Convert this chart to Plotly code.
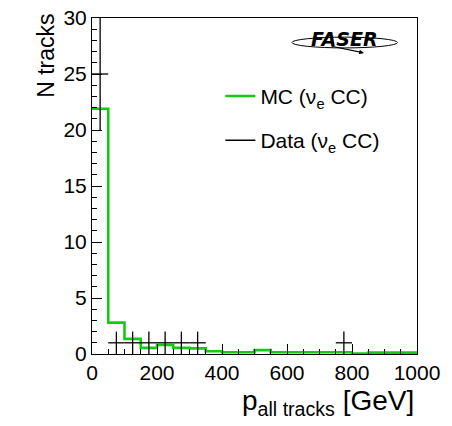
import numpy as np
import plotly.graph_objects as go

# ---- data ----
bin_width = 50
bin_edges = list(range(0, 1001, bin_width))
mc_values = [21.9, 2.8, 1.35, 0.55, 0.8, 0.55, 0.5, 0.25, 0.15, 0.15,
             0.35, 0.15, 0.15, 0.15, 0.15, 0.15, 0.03, 0.12, 0.12, 0.12]
data_centers = [25, 75, 125, 175, 225, 275, 325, 775]
data_counts = [25, 1, 1, 1, 1, 1, 1, 1]
x_ticks = [0, 200, 400, 600, 800, 1000]
y_ticks = [0, 5, 10, 15, 20, 25, 30]

GREEN = "#12cc12"
FONT = "Liberation Sans"

fig = go.Figure()

# MC histogram as step line
fig.add_trace(go.Scatter(
    x=bin_edges, y=mc_values + [mc_values[-1]],
    mode="lines", line=dict(color=GREEN, width=2.6, shape="hv"),
    showlegend=False, hoverinfo="skip"))

# Data points with error bars
fig.add_trace(go.Scatter(
    x=data_centers, y=data_counts, mode="markers",
    marker=dict(size=1, color="rgba(0,0,0,0)", line=dict(width=0)),
    error_y=dict(type="data", array=list(np.sqrt(data_counts)), color="black",
                 thickness=1.3, width=0),
    error_x=dict(type="data", array=[bin_width / 2] * len(data_centers), color="black",
                 thickness=1.3, width=0),
    showlegend=False))

# legend entries
fig.add_trace(go.Scatter(x=[None], y=[None], mode="lines",
                         line=dict(color=GREEN, width=2.6),
                         name="MC (ν<sub>e</sub> CC)", legendgroup="mc"))
fig.add_trace(go.Scatter(x=[None], y=[None], mode="lines",
                         line=dict(color="black", width=1.3),
                         name="Data (ν<sub>e</sub> CC)", legendgroup="data"))

axis_common = dict(showline=True, linecolor="black", linewidth=1, mirror=True,
                   ticks="inside", tickcolor="black", tickwidth=1,
                   showgrid=False, zeroline=False, automargin=False,
                   tickfont=dict(family=FONT, size=21, color="black"))

fig.update_xaxes(range=[0, 1000], tickvals=x_ticks, ticklen=10,
                 minor=dict(dtick=50, ticklen=5, ticks="inside", tickcolor="black"),
                 **axis_common)
fig.update_yaxes(range=[0, 30], tickvals=y_ticks, ticklen=10,
                 minor=dict(dtick=1, ticklen=5, ticks="inside", tickcolor="black"),
                 **axis_common)

fig.update_layout(
    width=452, height=426,
    margin=dict(l=92, r=35, t=18, b=72, autoexpand=False),
    plot_bgcolor="white", paper_bgcolor="white",
    font=dict(family=FONT, color="black"),
    legend=dict(x=0.395, y=0.828, xanchor="left", yanchor="top",
                font=dict(family=FONT, size=21, color="black"),
                bgcolor="rgba(0,0,0,0)", traceorder="grouped", tracegroupgap=14),
    annotations=[
        dict(text="N tracks", textangle=-90, xref="paper", yref="paper",
             x=-0.14, y=1.02, xanchor="center", yanchor="top",
             showarrow=False, font=dict(family=FONT, size=23)),
        dict(text="p<sub>all tracks</sub> [GeV]", xref="paper", yref="paper",
             x=0.998, y=-0.085, xanchor="right", yanchor="top",
             showarrow=False, font=dict(family=FONT, size=28)),
        dict(text="<b><i>FASER</i></b>", xref="paper", yref="paper",
             x=0.778, y=0.9375, xanchor="center", yanchor="middle",
             showarrow=False, font=dict(family="DejaVu Sans", size=19)),
        dict(text="", xref="paper", yref="paper", x=0.837, y=0.896,
             ax=-34, ay=-7, showarrow=True, arrowhead=2, arrowsize=0.8,
             arrowwidth=1.2, arrowcolor="black"),
    ],
    shapes=[
        dict(type="circle", xref="paper", yref="paper",
             x0=0.615, x1=0.94, y0=0.911, y1=0.943,
             line=dict(color="black", width=1)),
    ],
)

fig.write_html("out.html", config={"displayModeBar": False},
               post_script="document.body.style.margin='0px';")
